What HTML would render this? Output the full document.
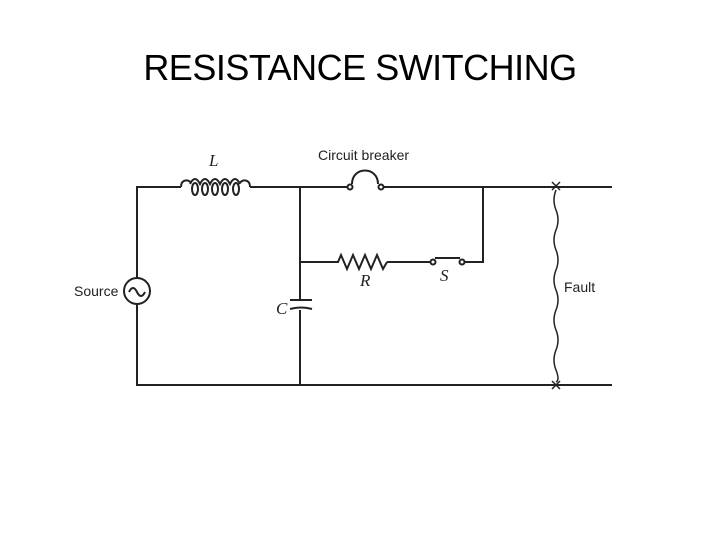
<!DOCTYPE html><html><head><style>body{margin:0;background:#fff}</style></head><body>
<svg width="720" height="540" xmlns="http://www.w3.org/2000/svg">
<text x="360" y="80" font-family="Liberation Sans, sans-serif" font-size="36" text-anchor="middle" letter-spacing="-0.5">RESISTANCE SWITCHING</text>
<g stroke="#222" stroke-width="2" fill="none">
<path d="M137 278 V187 H181"/>
<path d="M181 187 c0,-8 8,-8 10,-4 M250 187 c0,-8 -8,-8 -10,-4"/>
<path d="M190 184 q5,-10 10,0 q5,-10 10,0 q5,-10 10,0 q5,-10 10,0 q5,-10 10,0"/>
<ellipse cx="195" cy="189" rx="3" ry="6"/><ellipse cx="205" cy="189" rx="3" ry="6"/><ellipse cx="215" cy="189" rx="3" ry="6"/><ellipse cx="225" cy="189" rx="3" ry="6"/><ellipse cx="236" cy="189" rx="3" ry="6"/>
<path d="M250 187 H347 M383 187 H612"/>
<circle cx="350" cy="187" r="2.5"/><circle cx="381" cy="187" r="2.5"/>
<path d="M352 184 C352 166 378 166 378 184"/>
<path d="M483 187 V262 H465 M431 262 H387"/>
<circle cx="433" cy="262" r="2.5"/><circle cx="462" cy="262" r="2.5"/>
<path d="M435 258 H460"/>
<path d="M300 187 V300 M300 310 V385"/>
<path d="M300 262 H338 l3 -7 l6 14 l6 -14 l6 14 l6 -14 l6 14 l6 -14 l6 14 l4 -7"/>
<path d="M290 300 H312 M290 309 q11 -3 22 0"/>
<circle cx="137" cy="291" r="13"/>
<path d="M129 292 q4 -8 8 0 q4 8 8 0"/>
<path d="M137 304 V385 H612"/>
<path d="M556 190 q-4 10 0 20 q4 10 0 20 q-4 10 0 20 q4 10 0 20 q-4 10 0 20 q4 10 0 20 q-4 10 0 20 q4 10 0 20 q-4 10 0 20 q4 10 0 12" stroke-width="1.5"/>
<path d="M552 182 l8 8 M560 182 l-8 8 M552 381 l8 8 M560 381 l-8 8" stroke-width="1.5"/>
</g>
<g font-family="Liberation Sans, sans-serif" font-size="14" fill="#222">
<text x="318" y="160">Circuit breaker</text>
<text x="74" y="296">Source</text>
<text x="564" y="292">Fault</text>
</g>
<g font-family="Liberation Serif, serif" font-style="italic" font-size="17" fill="#222">
<text x="209" y="166">L</text><text x="360" y="286">R</text><text x="440" y="281">S</text><text x="276" y="314">C</text>
</g>
</svg></body></html>
